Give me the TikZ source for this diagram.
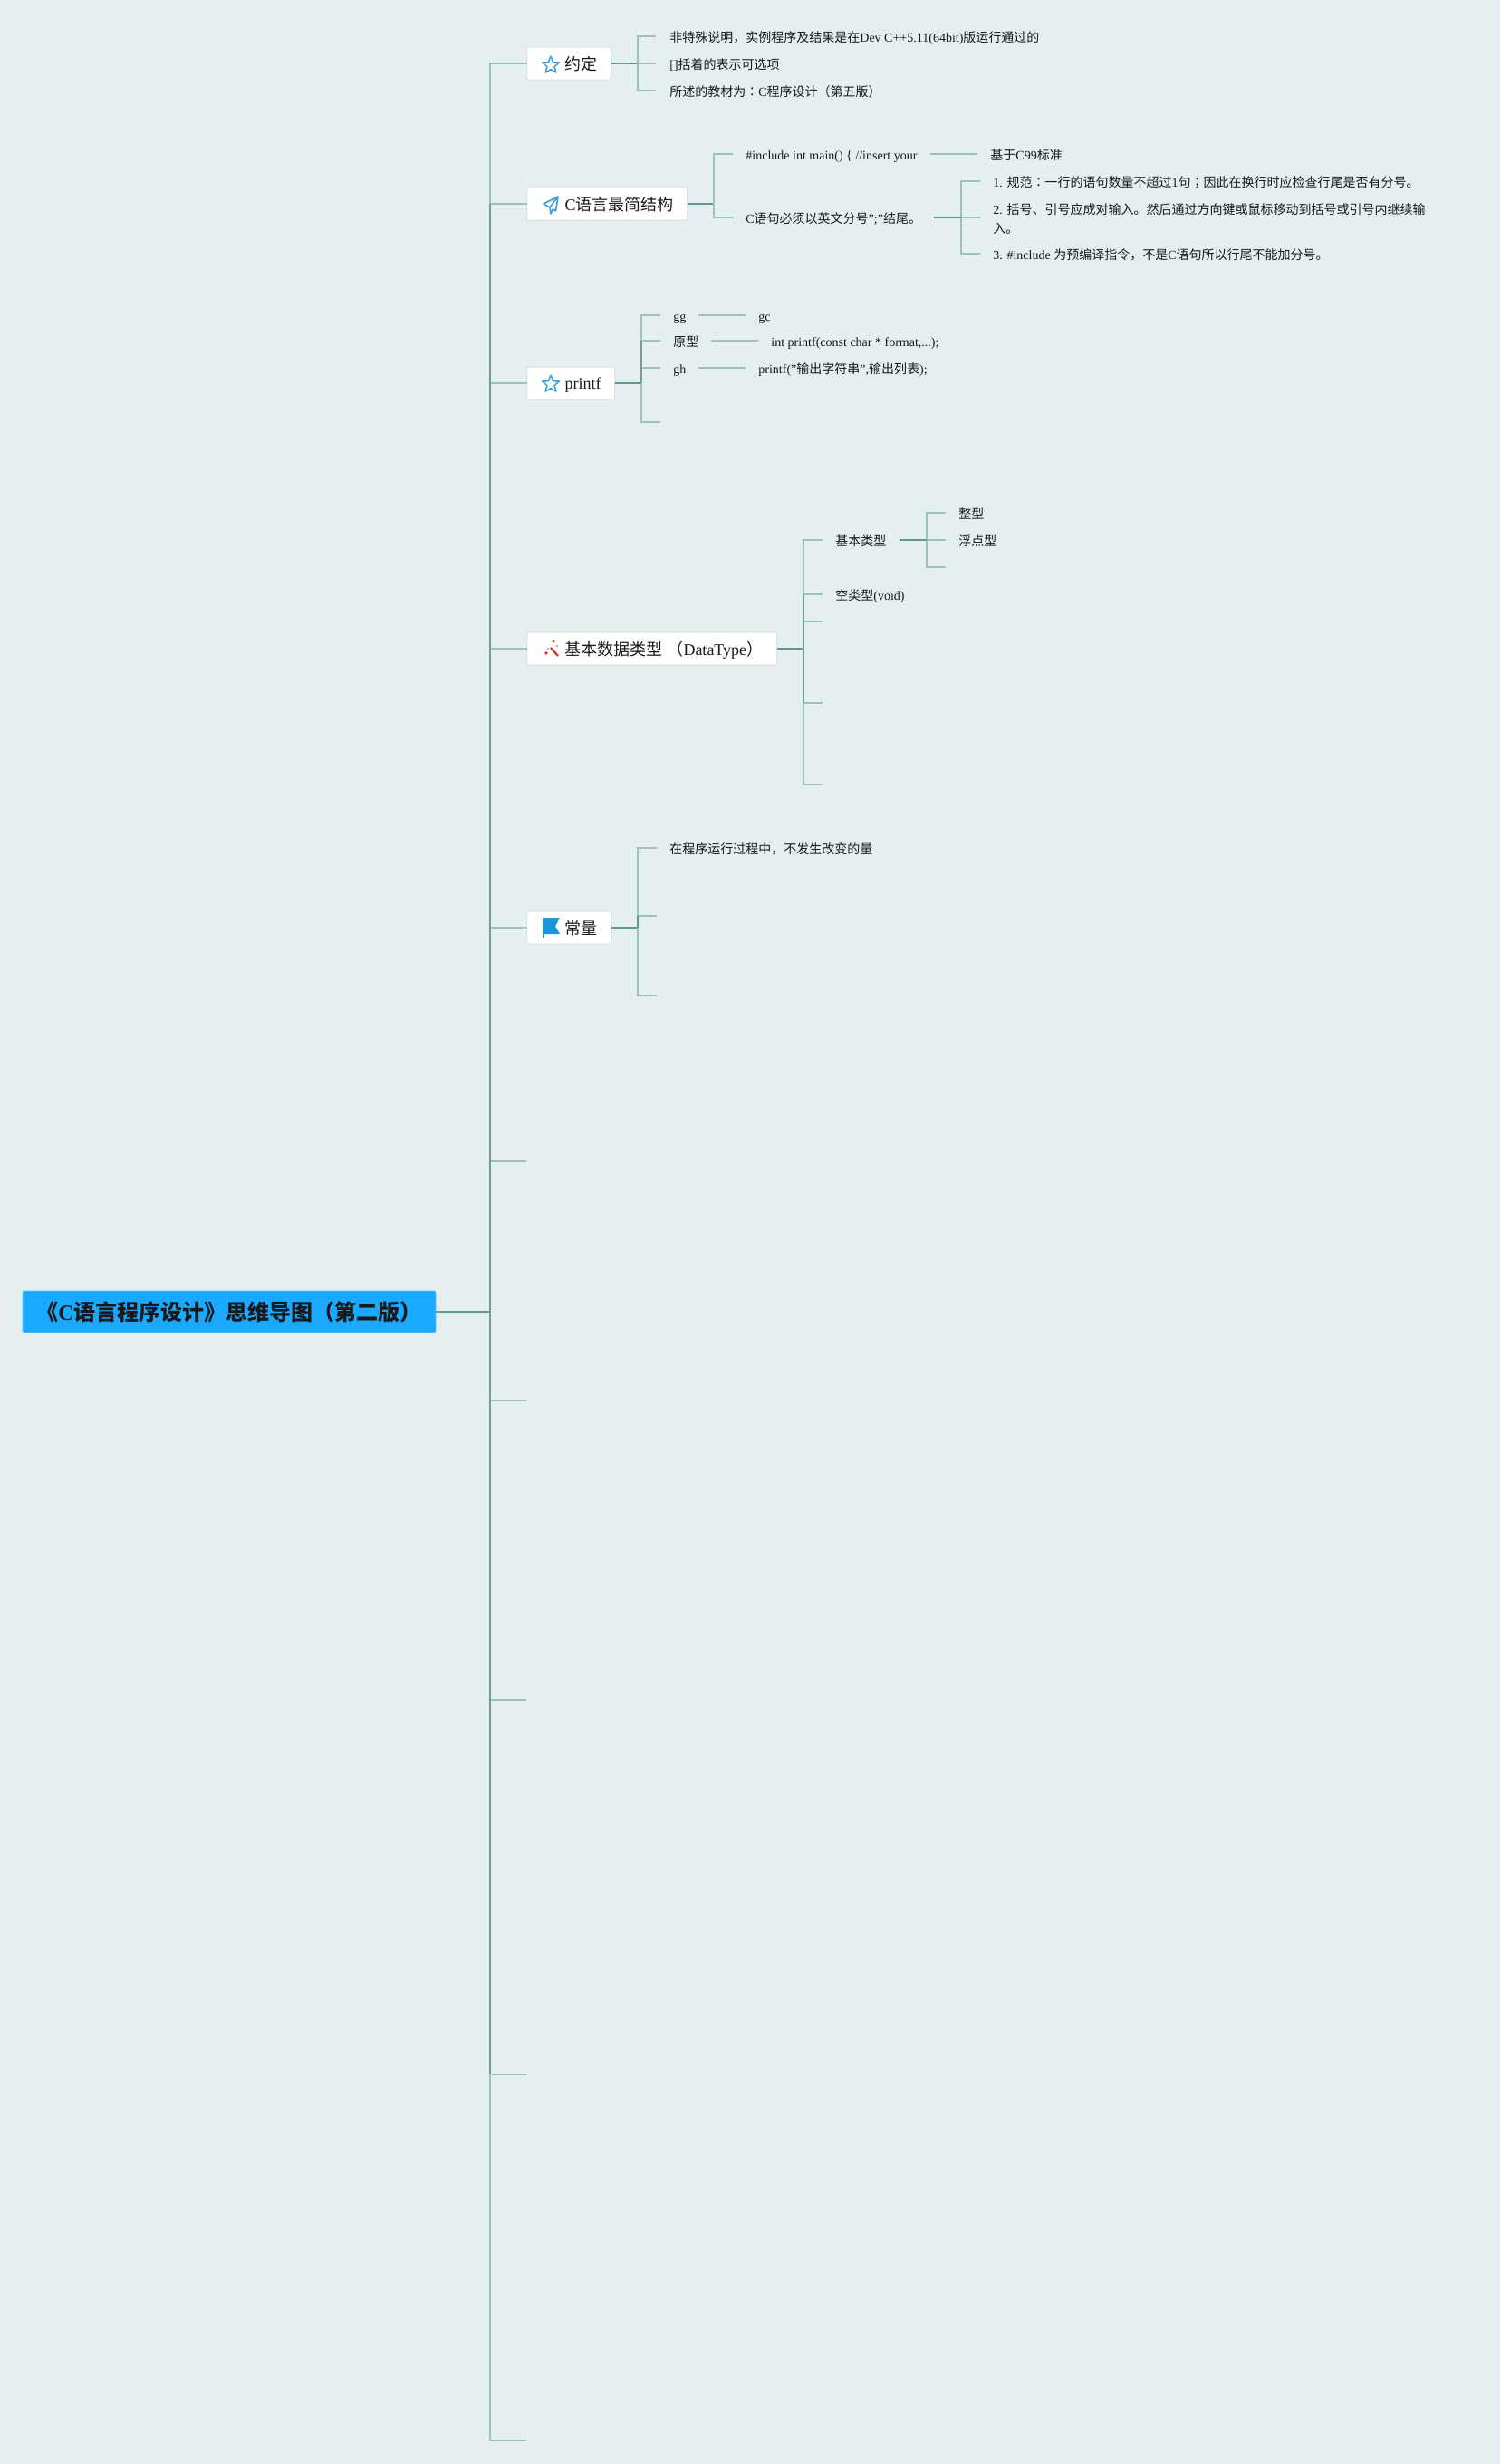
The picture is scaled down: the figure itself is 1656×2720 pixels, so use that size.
\documentclass[tikz,border=0pt]{standalone}
\usepackage{fontspec}
\setmainfont{Liberation Serif}
\newfontfamily\zhf{Noto Sans CJK SC}
\newfontfamily\zhp{Noto Sans CJK TC}
\newcommand\zh[1]{{\zhf #1}}
\newcommand\zc[1]{{\zhp #1}}
\definecolor{bgc}{HTML}{E5EEF1}
\definecolor{lite}{HTML}{9CC3BB}
\definecolor{dark}{HTML}{5F9A8F}
\definecolor{trunkc}{HTML}{6BA197}
\definecolor{rootc}{HTML}{1AA9FF}
\definecolor{iconb}{HTML}{3AA0DC}
\definecolor{flagb}{HTML}{1A96DF}
\definecolor{wandr}{HTML}{C9352B}
\definecolor{boxe}{HTML}{DADFE2}
\tikzset{
  x=0.5pt,y=-0.5pt,
  lite line/.style={draw=lite,line width=0.7pt,line cap=rect},
  dark line/.style={draw=dark,line width=0.9pt},
  trunk line/.style={draw=trunkc,line width=0.85pt},
  leafbase/.style={anchor=west,inner sep=0pt,font=\fontsize{7}{10.5}\selectfont,text=black!90},
  leaf/.style={leafbase,text height=6.2pt,text depth=0.8pt},
  branchbox/.style={anchor=west,fill=white,draw=boxe,line width=0.5pt,rounded corners=0.7pt,
    minimum height=18pt,inner xsep=0pt,inner ysep=0pt,align=left,
    text height=8pt,text depth=0.2pt,font=\fontsize{9}{11}\selectfont,text=black!90},
  rootbox/.style={fill=rootc,draw=rootc!70!white,line width=0.4pt,rounded corners=1pt,
    minimum width=228pt,minimum height=23pt,inner sep=0pt,
    font=\fontsize{12}{14}\selectfont\bfseries,text=black!90},
  icon line/.style={draw=iconb,line width=0.65pt,line join=round},
}
\begin{document}
\begin{tikzpicture}
\useasboundingbox (0,0) rectangle (1656,2720);
\fill[bgc] (0,0) rectangle (1656,2720);

% trunk and root
\coordinate (trtop) at (541,70);
\coordinate (trbot) at (541,2694);
\coordinate (trroot) at (541,1448);
\node[rootbox] (root) at (253,1448) {\raisebox{-0.8pt}{\zh{《}C\zh{语言程序设计》思维导图（第二版）}}};
\draw[dark line] (root.east |- trroot) -- (trroot);

% branch boxes
\node[branchbox,text width=46.5pt] (b1) at (581,70) {\hspace*{21pt}\zh{约定}};
\node[branchbox,text width=88.5pt] (b2) at (581,225) {\hspace*{21pt}C\zh{语言最简结构}};
\node[branchbox,text width=48.5pt] (b3) at (581,423) {\hspace*{21pt}\raisebox{0.8pt}{printf}};
\node[branchbox,text width=138pt] (b4) at (581,716) {\hspace*{21pt}\zh{基本数据类型}\hspace{2.5pt}\zh{（}DataType\zh{）}};
\node[branchbox,text width=46.5pt] (b5) at (581,1024) {\hspace*{21pt}\zh{常量}};

% trunk to branches
\coordinate (e1) at (580,1282);
\coordinate (e2) at (580,1546);
\coordinate (e3) at (580,1877);
\coordinate (e4) at (580,2290);
\coordinate (e5) at (580,2694);
\draw[lite line] (trtop) -- (trbot);
\foreach \n in {1,2,3,4,5} \draw[lite line] (541,0 |- b\n.west) -- (b\n.west);
\foreach \n in {1,...,5} \draw[lite line] (541,0 |- e\n) -- (e\n);
\draw[trunk line] (541,0 |- b2.west) -- (541,0 |- e4);
\foreach \p/\q in {1/704,2/788,3/708,4/887,5/704} \draw[dark line] (b\p.east) -- (\q,0 |- b\p.east);

% icons
\def\starp#1#2#3{% cx cy r
  \draw[icon line,line width=0.75pt] (#1,#2)
   +(0,-#3) -- +(0.26*#3,-0.33*#3) -- +(0.95*#3,-0.31*#3) -- +(0.41*#3,0.14*#3)
   -- +(0.59*#3,0.81*#3) -- +(0,0.46*#3) -- +(-0.59*#3,0.81*#3) -- +(-0.41*#3,0.14*#3)
   -- +(-0.95*#3,-0.31*#3) -- +(-0.26*#3,-0.33*#3) -- cycle;}
\starp{608}{72}{10}
\starp{608}{424}{10}
% plane
\draw[icon line,line width=0.8pt] (616,217) -- (600,225) -- (607,229) -- (608,236) -- (610.5,231) -- (613.5,233) -- cycle (607,229) -- (616,217);
% wand
\draw[wandr,line width=1.1pt] (608,715) -- (616,724);
\fill[wandr] (603,721) circle (1.8) (611,708) circle (1.5) (615,713) circle (0.9) (605,716) circle (0.9);
% flag
\fill[flagb] (599,1013) -- (618,1013) -- (613,1022.5) -- (618,1031) -- (600,1031) -- (600,1035) -- (599,1035) -- cycle;

% branch 1 leaves
\coordinate (j1) at (704,70);
\coordinate (s11) at (723,40);
\coordinate (s12) at (723,70);
\coordinate (s13) at (723,100);
\node[leaf] (t11) at (739,41) {\zh{非特殊说明，实例程序及结果是在}Dev C++5.11(64bit)\zh{版运行通过的}};
\node[leaf] (t12) at (739,71) {[]\zh{括着的表示可选项}};
\node[leaf] (t13) at (739,101) {\zh{所述的教材为}\zc{：}C\zh{程序设计（第五版）}};
\draw[lite line] (s11) -| (j1) |- (s13);
\draw[lite line] (j1) -- (s12);

% branch 2 leaves
\coordinate (j2) at (788,225);
\coordinate (s21) at (808,170);
\coordinate (s22) at (808,240);
\node[leaf] (t21) at (823,171) {\#include int main() \{ //insert your};
\node[leaf] (t22) at (823,241) {C\zh{语句必须以英文分号}";"\zh{结尾。}};
\draw[lite line] (s21) -| (j2) |- (s22);
\node[leaf] (t23) at (1093,171) {\zh{基于}C99\zh{标准}};
\coordinate (l21) at (1028,170);
\coordinate (l22) at (1078,170);
\draw[lite line] (l21) -- (l22);
\coordinate (l23) at (1031,240);
\coordinate (j3) at (1061,240);
\coordinate (s31) at (1081,200);
\coordinate (s32) at (1081,240);
\coordinate (s33) at (1081,280);
\draw[lite line] (s31) -| (j3) |- (s33);
\draw[lite line] (j3) -- (s32);
\draw[dark line] (l23) -- (j3);
\node[leaf] (t31) at (1096,201) {1. \zh{规范}\zc{：}\zh{一行的语句数量不超过}1\zh{句}\zc{；}\zh{因此在换行时应检查行尾是否有分号。}};
\node[leafbase,align=left,anchor=north west] (t32) at (1096,224) {2. \zh{括号、引号应成对输入。然后通过方向键或鼠标移动到括号或引号内继续输}\\\zh{入。}};
\node[leaf] (t33) at (1096,281) {3. \#include \zh{为预编译指令，不是}C\zh{语句所以行尾不能加分号。}};

% branch 3 leaves
\coordinate (j4) at (708,423);
\coordinate (s41) at (728,348);
\coordinate (s42) at (728,376);
\coordinate (s43) at (728,406);
\coordinate (s44) at (728,466);
\draw[lite line] (s41) -| (j4) |- (s44);
\draw[lite line] (j4 |- s42) -- (s42);
\draw[lite line] (j4 |- s43) -- (s43);
\draw[trunk line] (j4 |- s42) -- (j4);
\node[leaf] (t41) at (743,349) {gg};
\node[leaf] (t42) at (743,377) {\zh{原型}};
\node[leaf] (t43) at (743,407) {gh};
\node[leaf] (t44) at (837,349) {gc};
\node[leaf] (t45) at (851,377) {int printf(const char * format,...);};
\node[leaf] (t46) at (837,407) {printf("\zh{输出字符串}",\zh{输出列表});};
\coordinate (l41) at (772,348);
\coordinate (l42) at (822,348);
\coordinate (l43) at (786,376);
\coordinate (l44) at (836,376);
\coordinate (l45) at (772,406);
\coordinate (l46) at (822,406);
\draw[lite line] (l41) -- (l42);
\draw[lite line] (l43) -- (l44);
\draw[lite line] (l45) -- (l46);

% branch 4 leaves
\coordinate (j5) at (887,716);
\coordinate (s51) at (907,596);
\coordinate (s52) at (907,656);
\coordinate (s53) at (907,686);
\coordinate (s54) at (907,776);
\coordinate (s55) at (907,866);
\draw[lite line] (s51) -| (j5) |- (s55);
\draw[lite line] (j5 |- s52) -- (s52);
\draw[lite line] (j5 |- s53) -- (s53);
\draw[lite line] (j5 |- s54) -- (s54);
\draw[trunk line] (j5 |- s52) -- (j5 |- s54);
\node[leaf] (t51) at (922,597) {\zh{基本类型}};
\node[leaf] (t52) at (922,657) {\zh{空类型}(void)};
\coordinate (l51) at (993,596);
\coordinate (j6) at (1023,596);
\coordinate (s61) at (1043,566);
\coordinate (s62) at (1043,596);
\coordinate (s63) at (1043,626);
\draw[lite line] (s61) -| (j6) |- (s63);
\draw[lite line] (j6) -- (s62);
\draw[dark line] (l51) -- (j6);
\node[leaf] (t53) at (1058,567) {\zh{整型}};
\node[leaf] (t54) at (1058,597) {\zh{浮点型}};

% branch 5 leaves
\coordinate (j7) at (704,1024);
\coordinate (s71) at (724,936);
\coordinate (s72) at (724,1011);
\coordinate (s73) at (724,1099);
\draw[lite line] (s71) -| (j7) |- (s73);
\draw[lite line] (j7 |- s72) -- (s72);
\draw[dark line] (j7 |- s72) -- (j7);
\node[leaf] (t71) at (739,937) {\zh{在程序运行过程中，不发生改变的量}};
\end{tikzpicture}
\end{document}
